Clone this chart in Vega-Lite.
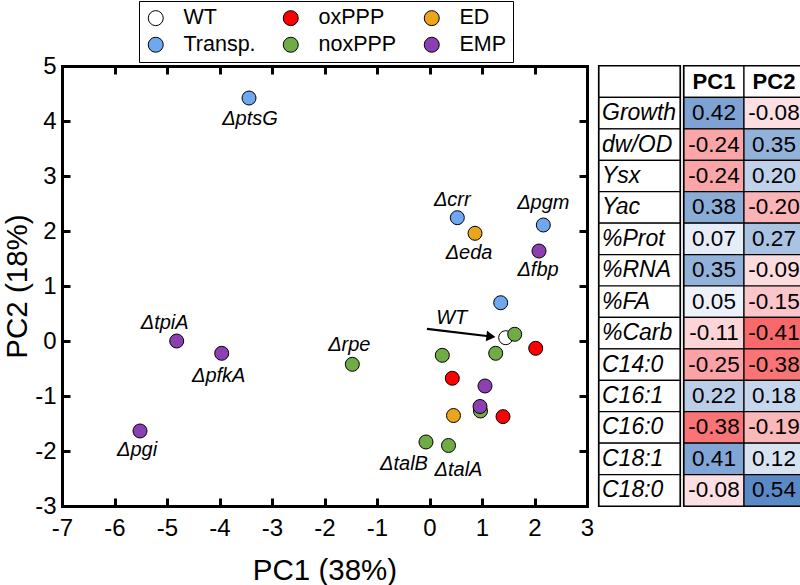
{
  "$schema": "https://vega.github.io/schema/vega-lite/v6.json",
  "padding": {"left": 2, "top": 0, "right": 0, "bottom": 0},
  "background": "white",
  "datasets": {
    "pts": [
      {"pc1": 1.451, "pc2": 0.06, "group": "WT", "label": "WT"},
      {"pc1": 1.623, "pc2": 0.122, "group": "noxPPP", "label": ""},
      {"pc1": -3.438, "pc2": 4.418, "group": "Transp.", "label": "ΔptsG"},
      {"pc1": 0.53, "pc2": 2.242, "group": "Transp.", "label": "Δcrr"},
      {"pc1": 2.168, "pc2": 2.109, "group": "Transp.", "label": "Δpgm"},
      {"pc1": 1.356, "pc2": 0.696, "group": "Transp.", "label": ""},
      {"pc1": 0.867, "pc2": 1.958, "group": "ED", "label": "Δeda"},
      {"pc1": 0.457, "pc2": -1.355, "group": "ED", "label": ""},
      {"pc1": 2.086, "pc2": 1.636, "group": "EMP", "label": "Δfbp"},
      {"pc1": -4.815, "pc2": 0.0, "group": "EMP", "label": "ΔtpiA"},
      {"pc1": -3.958, "pc2": -0.224, "group": "EMP", "label": "ΔpfkA"},
      {"pc1": -5.514, "pc2": -1.636, "group": "EMP", "label": "Δpgi"},
      {"pc1": 1.057, "pc2": -0.818, "group": "EMP", "label": ""},
      {"pc1": 0.971, "pc2": -1.273, "group": "noxPPP", "label": ""},
      {"pc1": 0.962, "pc2": -1.191, "group": "EMP", "label": ""},
      {"pc1": -1.47, "pc2": -0.424, "group": "noxPPP", "label": "Δrpe"},
      {"pc1": 0.244, "pc2": -0.26, "group": "noxPPP", "label": ""},
      {"pc1": 1.261, "pc2": -0.224, "group": "noxPPP", "label": ""},
      {"pc1": -0.067, "pc2": -1.836, "group": "noxPPP", "label": "ΔtalB"},
      {"pc1": 0.362, "pc2": -1.9, "group": "noxPPP", "label": "ΔtalA"},
      {"pc1": 2.023, "pc2": -0.133, "group": "oxPPP", "label": ""},
      {"pc1": 0.434, "pc2": -0.678, "group": "oxPPP", "label": ""},
      {"pc1": 1.4, "pc2": -1.375, "group": "oxPPP", "label": ""}
    ],
    "arrow": [
      {"pc1": -0.05, "pc2": 0.22, "end1": 1.17, "end2": 0.082}
    ],
    "rows": [
      {"var": "hdr", "col": "name", "name": ""},
      {"var": "Growth", "col": "name", "name": "Growth"},
      {"var": "dw/OD", "col": "name", "name": "dw/OD"},
      {"var": "Ysx", "col": "name", "name": "Ysx"},
      {"var": "Yac", "col": "name", "name": "Yac"},
      {"var": "%Prot", "col": "name", "name": "%Prot"},
      {"var": "%RNA", "col": "name", "name": "%RNA"},
      {"var": "%FA", "col": "name", "name": "%FA"},
      {"var": "%Carb", "col": "name", "name": "%Carb"},
      {"var": "C14:0", "col": "name", "name": "C14:0"},
      {"var": "C16:1", "col": "name", "name": "C16:1"},
      {"var": "C16:0", "col": "name", "name": "C16:0"},
      {"var": "C18:1", "col": "name", "name": "C18:1"},
      {"var": "C18:0", "col": "name", "name": "C18:0"}
    ],
    "tbl": [
      {"var": "hdr", "PC": "PC1", "v": null},
      {"var": "hdr", "PC": "PC2", "v": null},
      {"var": "Growth", "PC": "PC1", "v": 0.42},
      {"var": "Growth", "PC": "PC2", "v": -0.08},
      {"var": "dw/OD", "PC": "PC1", "v": -0.24},
      {"var": "dw/OD", "PC": "PC2", "v": 0.35},
      {"var": "Ysx", "PC": "PC1", "v": -0.24},
      {"var": "Ysx", "PC": "PC2", "v": 0.2},
      {"var": "Yac", "PC": "PC1", "v": 0.38},
      {"var": "Yac", "PC": "PC2", "v": -0.2},
      {"var": "%Prot", "PC": "PC1", "v": 0.07},
      {"var": "%Prot", "PC": "PC2", "v": 0.27},
      {"var": "%RNA", "PC": "PC1", "v": 0.35},
      {"var": "%RNA", "PC": "PC2", "v": -0.09},
      {"var": "%FA", "PC": "PC1", "v": 0.05},
      {"var": "%FA", "PC": "PC2", "v": -0.15},
      {"var": "%Carb", "PC": "PC1", "v": -0.11},
      {"var": "%Carb", "PC": "PC2", "v": -0.41},
      {"var": "C14:0", "PC": "PC1", "v": -0.25},
      {"var": "C14:0", "PC": "PC2", "v": -0.38},
      {"var": "C16:1", "PC": "PC1", "v": 0.22},
      {"var": "C16:1", "PC": "PC2", "v": 0.18},
      {"var": "C16:0", "PC": "PC1", "v": -0.38},
      {"var": "C16:0", "PC": "PC2", "v": -0.19},
      {"var": "C18:1", "PC": "PC1", "v": 0.41},
      {"var": "C18:1", "PC": "PC2", "v": 0.12},
      {"var": "C18:0", "PC": "PC1", "v": -0.08},
      {"var": "C18:0", "PC": "PC2", "v": 0.54}
    ]
  },
  "spacing": 3,
  "hconcat": [
    {
      "width": 525,
      "height": 440,
      "encoding": {
        "x": {"field": "pc1", "type": "quantitative", "scale": {"domain": [-7, 3], "nice": false, "zero": false}, "axis": null},
        "y": {"field": "pc2", "type": "quantitative", "scale": {"domain": [-3, 5], "nice": false, "zero": false}, "axis": null}
      },
      "layer": [
        {
          "data": {"name": "pts"},
          "mark": {"type": "point", "opacity": 0},
          "encoding": {
            "x": {"field": "pc1", "type": "quantitative", "scale": {"domain": [-7, 3], "nice": false, "zero": false},
              "axis": {"orient": "top", "values": [-7, -6, -5, -4, -3, -2, -1, 0, 1, 2, 3], "labels": false, "title": null, "grid": false, "domainColor": "black", "domainWidth": 3, "domainCap": "square", "tickColor": "black", "tickWidth": 3, "tickSize": -8}},
            "y": {"field": "pc2", "type": "quantitative", "scale": {"domain": [-3, 5], "nice": false, "zero": false},
              "axis": {"orient": "right", "values": [-3, -2, -1, 0, 1, 2, 3, 4, 5], "labels": false, "title": null, "grid": false, "domainColor": "black", "domainWidth": 3, "domainCap": "square", "tickColor": "black", "tickWidth": 3, "tickSize": -8, "minExtent": 0}}
          }
        },
        {
          "data": {"name": "arrow"},
          "mark": {"type": "rule", "color": "black", "strokeWidth": 2.2},
          "encoding": {
            "x2": {"field": "end1"},
            "y2": {"field": "end2"}
          }
        },
        {
          "data": {"name": "arrow"},
          "mark": {"type": "point", "shape": "triangle-right", "filled": true, "color": "black", "size": 110, "angle": 6.6, "opacity": 1},
          "encoding": {
            "x": {"field": "end1", "type": "quantitative", "axis": null},
            "y": {"field": "end2", "type": "quantitative", "axis": null}
          }
        },
        {
          "data": {"name": "pts"},
          "mark": {"type": "circle", "size": 196, "stroke": "black", "strokeWidth": 1, "opacity": 1},
          "encoding": {
            "x": {"field": "pc1", "type": "quantitative", "scale": {"domain": [-7, 3], "nice": false, "zero": false},
              "axis": {"orient": "bottom", "values": [-7, -6, -5, -4, -3, -2, -1, 0, 1, 2, 3], "labelExpr": "'' + datum.value", "grid": false, "domainColor": "black", "domainWidth": 3, "domainCap": "square", "tickColor": "black", "tickWidth": 3, "tickSize": -8, "labelFontSize": 24, "labelColor": "black", "labelPadding": 18, "labelFlush": false, "labelOverlap": false, "labelBound": false, "title": "PC1 (38%)", "titleFontSize": 29.5, "titleFontWeight": "normal", "titleColor": "black", "titlePadding": 16}},
            "y": {"field": "pc2", "type": "quantitative", "scale": {"domain": [-3, 5], "nice": false, "zero": false},
              "axis": {"orient": "left", "values": [-3, -2, -1, 0, 1, 2, 3, 4, 5], "labelExpr": "'' + datum.value", "grid": false, "domainColor": "black", "domainWidth": 3, "domainCap": "square", "tickColor": "black", "tickWidth": 3, "tickSize": -8, "labelFontSize": 24, "labelColor": "black", "labelPadding": 14, "labelFlush": false, "labelOverlap": false, "labelBound": false, "title": "PC2 (18%)", "titleFontSize": 29.5, "titleFontWeight": "normal", "titleColor": "black", "titlePadding": 2}},
            "color": {"field": "group", "type": "nominal",
              "scale": {"domain": ["WT", "oxPPP", "ED", "Transp.", "noxPPP", "EMP"], "range": ["#ffffff", "#ff0000", "#eba51a", "#6fa8f0", "#6fac46", "#8c3fb3"]},
              "legend": {"orient": "none", "legendX": 77, "legendY": -65, "columns": 3, "direction": "horizontal", "title": null, "labelFontSize": 21.5, "labelColor": "black", "symbolSize": 225, "symbolType": "circle", "symbolStrokeColor": "black", "symbolStrokeWidth": 1, "symbolOpacity": 1, "labelOffset": 17, "columnPadding": 24, "rowPadding": 4, "padding": 6, "strokeColor": "black", "fillColor": "white"}}
          }
        },
        {"data": {"name": "pts"}, "transform": [{"filter": "datum.label === 'WT'"}], "mark": {"type": "text", "dx": -54, "dy": -20, "fontSize": 20, "fontStyle": "italic", "color": "black"}, "encoding": {"text": {"field": "label"}}},
        {"data": {"name": "pts"}, "transform": [{"filter": "datum.label === 'ΔptsG'"}], "mark": {"type": "text", "dx": 1, "dy": 21, "fontSize": 20, "fontStyle": "italic", "color": "black"}, "encoding": {"text": {"field": "label"}}},
        {"data": {"name": "pts"}, "transform": [{"filter": "datum.label === 'Δcrr'"}], "mark": {"type": "text", "dx": -5, "dy": -18, "fontSize": 20, "fontStyle": "italic", "color": "black"}, "encoding": {"text": {"field": "label"}}},
        {"data": {"name": "pts"}, "transform": [{"filter": "datum.label === 'Δpgm'"}], "mark": {"type": "text", "dx": 0, "dy": -22, "fontSize": 20, "fontStyle": "italic", "color": "black"}, "encoding": {"text": {"field": "label"}}},
        {"data": {"name": "pts"}, "transform": [{"filter": "datum.label === 'Δeda'"}], "mark": {"type": "text", "dx": -6, "dy": 20, "fontSize": 20, "fontStyle": "italic", "color": "black"}, "encoding": {"text": {"field": "label"}}},
        {"data": {"name": "pts"}, "transform": [{"filter": "datum.label === 'Δfbp'"}], "mark": {"type": "text", "dx": -1, "dy": 19, "fontSize": 20, "fontStyle": "italic", "color": "black"}, "encoding": {"text": {"field": "label"}}},
        {"data": {"name": "pts"}, "transform": [{"filter": "datum.label === 'ΔtpiA'"}], "mark": {"type": "text", "dx": -12, "dy": -18, "fontSize": 20, "fontStyle": "italic", "color": "black"}, "encoding": {"text": {"field": "label"}}},
        {"data": {"name": "pts"}, "transform": [{"filter": "datum.label === 'ΔpfkA'"}], "mark": {"type": "text", "dx": -3, "dy": 23, "fontSize": 20, "fontStyle": "italic", "color": "black"}, "encoding": {"text": {"field": "label"}}},
        {"data": {"name": "pts"}, "transform": [{"filter": "datum.label === 'Δrpe'"}], "mark": {"type": "text", "dx": -3, "dy": -19, "fontSize": 20, "fontStyle": "italic", "color": "black"}, "encoding": {"text": {"field": "label"}}},
        {"data": {"name": "pts"}, "transform": [{"filter": "datum.label === 'Δpgi'"}], "mark": {"type": "text", "dx": -3, "dy": 19, "fontSize": 20, "fontStyle": "italic", "color": "black"}, "encoding": {"text": {"field": "label"}}},
        {"data": {"name": "pts"}, "transform": [{"filter": "datum.label === 'ΔtalB'"}], "mark": {"type": "text", "dx": -22, "dy": 22, "fontSize": 20, "fontStyle": "italic", "color": "black"}, "encoding": {"text": {"field": "label"}}},
        {"data": {"name": "pts"}, "transform": [{"filter": "datum.label === 'ΔtalA'"}], "mark": {"type": "text", "dx": 10, "dy": 24, "fontSize": 20, "fontStyle": "italic", "color": "black"}, "encoding": {"text": {"field": "label"}}}
      ],
      "resolve": {"axis": {"x": "independent", "y": "independent"}}
    },
    {
      "spacing": 0,
      "hconcat": [
        {
          "width": 81,
          "height": 440,
          "view": {"stroke": "black", "strokeWidth": 2.2},
          "data": {"name": "rows"},
          "encoding": {
            "x": {"field": "col", "type": "nominal", "scale": {"paddingInner": 0, "paddingOuter": 0}, "axis": null},
            "y": {"field": "var", "type": "nominal", "scale": {"domain": ["hdr", "Growth", "dw/OD", "Ysx", "Yac", "%Prot", "%RNA", "%FA", "%Carb", "C14:0", "C16:1", "C16:0", "C18:1", "C18:0"], "paddingInner": 0, "paddingOuter": 0}, "axis": null}
          },
          "layer": [
            {"mark": {"type": "rect", "fill": "white", "stroke": "black", "strokeWidth": 1.2}},
            {"mark": {"type": "text", "align": "left", "dx": 3, "fontSize": 23, "fontStyle": "italic", "color": "black"},
              "encoding": {"text": {"field": "name"}, "x": {"field": "col", "type": "nominal", "bandPosition": 0, "scale": {"paddingInner": 0, "paddingOuter": 0}, "axis": null}}}
          ]
        },
        {
          "width": 120,
          "height": 440,
          "view": {"stroke": "black", "strokeWidth": 2.2},
          "data": {"name": "tbl"},
          "encoding": {
            "x": {"field": "PC", "type": "nominal", "scale": {"domain": ["PC1", "PC2"], "paddingInner": 0, "paddingOuter": 0}, "axis": null},
            "y": {"field": "var", "type": "nominal", "scale": {"domain": ["hdr", "Growth", "dw/OD", "Ysx", "Yac", "%Prot", "%RNA", "%FA", "%Carb", "C14:0", "C16:1", "C16:0", "C18:1", "C18:0"], "paddingInner": 0, "paddingOuter": 0}, "axis": null}
          },
          "layer": [
            {"transform": [{"filter": "datum.var === 'hdr'"}], "mark": {"type": "rect", "fill": "white", "stroke": "black", "strokeWidth": 1.2}},
            {"transform": [{"filter": "datum.var !== 'hdr'"}], "mark": {"type": "rect", "stroke": "black", "strokeWidth": 1.2, "opacity": 1},
              "encoding": {"color": {"field": "v", "type": "quantitative", "scale": {"domain": [-0.41, 0, 0.54], "range": ["#F8696B", "#FCFCFF", "#5A8AC6"], "interpolate": "rgb"}, "legend": null}}},
            {"transform": [{"filter": "datum.var !== 'hdr'"}], "mark": {"type": "text", "fontSize": 22.5, "color": "black", "text": {"expr": "replace(format(datum.v, '.2f'), '\u2212', '-')"}}},
            {"transform": [{"filter": "datum.var === 'hdr'"}], "mark": {"type": "text", "fontSize": 22, "fontWeight": "bold", "color": "black"},
              "encoding": {"text": {"field": "PC"}}}
          ],
          "resolve": {"scale": {"color": "independent"}}
        }
      ],
      "resolve": {"scale": {"x": "independent", "y": "independent"}}
    }
  ],
  "resolve": {"scale": {"x": "independent", "y": "independent", "color": "independent"}, "legend": {"color": "independent"}},
  "config": {
    "font": "Liberation Sans",
    "view": {"stroke": null}
  }
}
